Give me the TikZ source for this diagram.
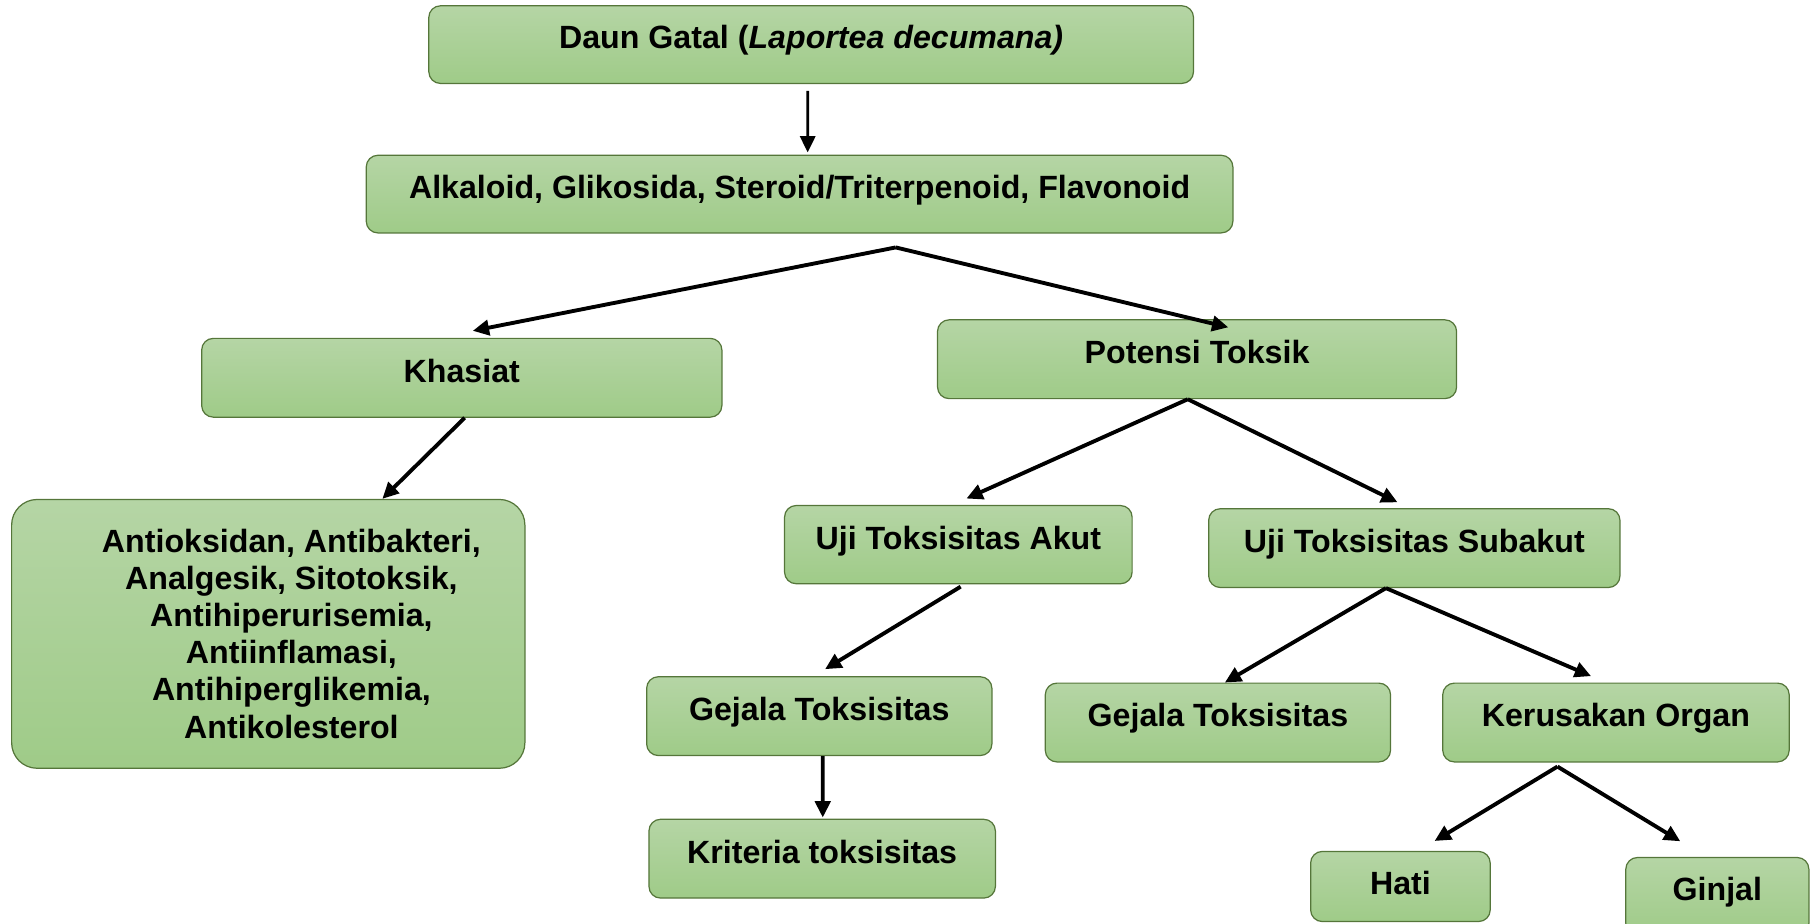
\documentclass[tikz,border=0pt]{standalone}
\usepackage{fontspec}
\setmainfont{Liberation Sans}
\usetikzlibrary{arrows.meta}
\definecolor{gtop}{HTML}{B5D5A5}
\definecolor{gbot}{HTML}{9FCB88}
\definecolor{gline}{HTML}{55763A}

\begin{document}
\begin{tikzpicture}
  [x=0.02cm,y=-0.02cm,
   kotak/.style={draw=gline,line width=0.6pt,rounded corners=0.2cm,
     top color=gtop,bottom color=gbot,inner sep=0pt,
     font=\fontsize{15.8}{18.2}\selectfont\bfseries,
     text height=11.3pt,text depth=7pt},
   teks/.style={align=center,font=\fontsize{15.8}{18.2}\selectfont\bfseries},
   panah/.style={-{Triangle[length=8pt,width=7.5pt]},line width=1.9pt}]
  \useasboundingbox (0,0) rectangle (1568,797);

  % boxes
  \node[kotak,minimum width=13.2cm,minimum height=1.34cm] (daun) at (700,38.5)
    {Daun Gatal (\textit{Laportea decumana)}};
  \node[kotak,minimum width=14.96cm,minimum height=1.34cm] (alk) at (690,167.5)
    {Alkaloid, Glikosida, Steroid/Triterpenoid, Flavonoid};
  \node[kotak,minimum width=8.98cm,minimum height=1.36cm] (khasiat) at (398.5,326) {Khasiat};
  \node[kotak,minimum width=8.96cm,minimum height=1.36cm] (potensi) at (1033,310) {Potensi Toksik};
  \node[kotak,minimum width=8.86cm,minimum height=4.64cm,rounded corners=0.44cm] (manfaat) at (231.5,547) {};
  \node[teks] (manfaattxt) at ([xshift=0.4cm]manfaat.center)
    {Antioksidan, Antibakteri,\\ Analgesik, Sitotoksik,\\ Antihiperurisemia,\\
     Antiinflamasi,\\ Antihiperglikemia,\\ Antikolesterol};
  \node[kotak,minimum width=6cm,minimum height=1.35cm] (akut) at (827,470) {Uji Toksisitas Akut};
  \node[kotak,minimum width=7.1cm,minimum height=1.36cm] (subakut) at (1220.5,473) {Uji Toksisitas Subakut};
  \node[kotak,minimum width=5.96cm,minimum height=1.36cm] (gejalaA) at (707,618) {Gejala Toksisitas};
  \node[kotak,minimum width=5.98cm,minimum height=1.36cm] (kriteria) at (709.5,741) {Kriteria toksisitas};
  \node[kotak,minimum width=5.96cm,minimum height=1.36cm] (gejalaB) at (1051,623.5) {Gejala Toksisitas};
  \node[kotak,minimum width=5.98cm,minimum height=1.36cm] (organ) at (1394.5,623.5) {Kerusakan Organ};
  \node[kotak,minimum width=3.1cm,minimum height=1.21cm,text depth=3.6pt] (hati) at (1208.5,765) {Hati};
  \node[kotak,minimum width=3.16cm,minimum height=1.34cm] (ginjal) at (1482,773.5) {Ginjal};

  % arrow ends
  \coordinate (daunS) at ([xshift=-0.06cm,yshift=-0.12cm]daun.south);
  \coordinate (alkT) at ([xshift=0.14cm,yshift=0.04cm]alk.north);
  \coordinate (alkS) at ([xshift=1.66cm,yshift=-0.24cm]alk.south);
  \coordinate (khasiatT) at ([xshift=0.19cm,yshift=0.12cm]khasiat.north);
  \coordinate (potensiT) at ([xshift=0.54cm,yshift=-0.14cm]potensi.north);
  \coordinate (khasiatS) at ([xshift=0.05cm]khasiat.south);
  \coordinate (manfaatT) at ([xshift=1.97cm]manfaat.north);
  \coordinate (potensiS) at ([xshift=-0.16cm]potensi.south);
  \coordinate (akutT) at ([xshift=0.14cm,yshift=0.11cm]akut.north);
  \coordinate (subakutT) at ([xshift=-0.29cm,yshift=0.1cm]subakut.north);
  \coordinate (akutS) at ([xshift=0.04cm,yshift=-0.04cm]akut.south);
  \coordinate (gejalaAT) at ([xshift=0.1cm,yshift=0.12cm]gejalaA.north);
  \coordinate (gejalaAS) at ([xshift=0.06cm]gejalaA.south);
  \coordinate (kriteriaT) at ([xshift=0.01cm,yshift=0.02cm]kriteria.north);
  \coordinate (subakutS) at ([xshift=-0.49cm]subakut.south);
  \coordinate (gejalaBT) at ([xshift=0.12cm]gejalaB.north);
  \coordinate (organT) at ([xshift=-0.43cm,yshift=0.11cm]organ.north);
  \coordinate (organS) at ([xshift=-1.01cm,yshift=-0.07cm]organ.south);
  \coordinate (hatiT) at ([xshift=0.59cm,yshift=0.17cm]hati.north);
  \coordinate (ginjalT) at ([xshift=-0.64cm,yshift=0.27cm]ginjal.north);

  % arrows
  \draw[panah,line width=1.3pt] (daunS) -- (alkT);
  \foreach \a/\b in {alkS/khasiatT,alkS/potensiT,khasiatS/manfaatT,
      potensiS/akutT,potensiS/subakutT,akutS/gejalaAT,gejalaAS/kriteriaT,
      subakutS/gejalaBT,subakutS/organT,organS/hatiT,organS/ginjalT} {
    \draw[panah] (\a) -- (\b);
  }
\end{tikzpicture}
\end{document}
